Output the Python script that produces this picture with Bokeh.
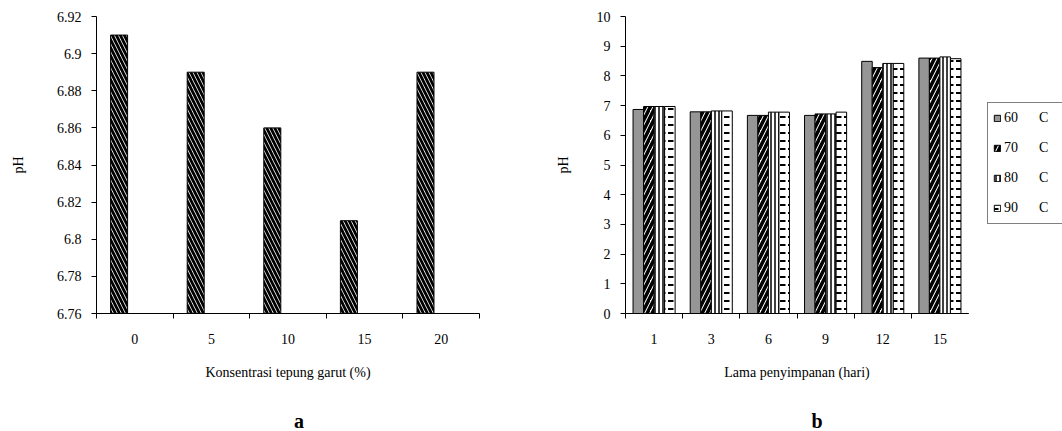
from bokeh.plotting import figure
from bokeh.models import (Range1d, FixedTicker, NumeralTickFormatter, Legend,
                          LegendItem, Div)
from bokeh.layouts import row, column
from bokeh.embed import file_html
from bokeh.resources import INLINE
import numpy as np

# ---- data: chart a ----
conc_labels = ["0", "5", "10", "15", "20"]
ph_conc = [6.91, 6.89, 6.86, 6.81, 6.89]
ya_ticks = [6.76, 6.78, 6.80, 6.82, 6.84, 6.86, 6.88, 6.90, 6.92]

# ---- data: chart b ----
days = ["1", "3", "6", "9", "12", "15"]
ph_60 = [6.87, 6.79, 6.67, 6.67, 8.49, 8.60]
ph_70 = [6.97, 6.79, 6.67, 6.72, 8.28, 8.60]
ph_80 = [6.97, 6.82, 6.78, 6.72, 8.42, 8.64]
ph_90 = [6.97, 6.82, 6.78, 6.78, 8.42, 8.58]
NB = "\u00a0"
series_labels = ["60" + NB * 6 + "C", "70" + NB * 6 + "C",
                 "80" + NB * 6 + "C", "90" + NB * 6 + "C"]
yb_ticks = list(range(0, 11))

FONT = "Liberation Serif"
PLOT_H = 405

# bar styles for the four temperature series
styles = [
    dict(fill_color="#969696"),
    dict(fill_color="white", hatch_pattern="/", hatch_color="black",
         hatch_scale=10, hatch_weight=3.5),
    dict(fill_color="white", hatch_pattern="|", hatch_color="black",
         hatch_scale=4, hatch_weight=1.5),
    dict(fill_color="white", hatch_pattern='"', hatch_color="black",
         hatch_scale=8, hatch_weight=2),
]


def style(p, xlabel, n, ylab_standoff):
    p.outline_line_color = None
    p.xgrid.grid_line_color = None
    p.ygrid.grid_line_color = None
    for ax in (p.xaxis[0], p.yaxis[0]):
        ax.axis_line_color = "black"
        ax.major_label_text_font = FONT
        ax.major_label_text_font_size = "14px"
        ax.major_label_text_color = "black"
        ax.axis_label_text_font = FONT
        ax.axis_label_text_font_size = "14px"
        ax.axis_label_text_font_style = "normal"
        ax.axis_label_text_color = "black"
    xa = p.xaxis[0]
    xa.ticker = FixedTicker(ticks=[i + 0.5 for i in range(n)],
                            minor_ticks=list(range(n + 1)))
    xa.major_tick_line_color = None
    xa.minor_tick_line_color = "black"
    xa.minor_tick_out = 5
    xa.minor_tick_in = 0
    xa.major_label_standoff = 14
    xa.axis_label = xlabel
    xa.axis_label_standoff = 18
    ya = p.yaxis[0]
    ya.major_tick_out = 5
    ya.major_tick_in = 0
    ya.minor_tick_line_color = None
    ya.major_label_standoff = 10
    ya.axis_label = "pH"
    ya.axis_label_standoff = ylab_standoff


# ---------- chart a ----------
pa = figure(width=540, height=PLOT_H, output_backend="svg", toolbar_location=None,
            x_range=Range1d(0, len(conc_labels)), y_range=Range1d(6.76, 6.92),
            min_border_left=96, min_border_right=61, min_border_top=16,
            min_border_bottom=PLOT_H - 317, background_fill_color="white",
            border_fill_color="white")
style(pa, "Konsentrasi tepung garut (%)", len(conc_labels), 28)
pa.xaxis[0].major_label_overrides = {i + 0.5: lab for i, lab in enumerate(conc_labels)}
pa.yaxis[0].ticker = FixedTicker(ticks=ya_ticks)
pa.yaxis[0].formatter = NumeralTickFormatter(format="0.[00]")

xa_pos = np.arange(len(conc_labels)) + 0.5 - 0.205
pa.vbar(x=xa_pos, top=ph_conc, bottom=6.76, width=0.222,
        fill_color="white", line_color="black", line_width=1,
        hatch_pattern="\\", hatch_color="black", hatch_scale=8, hatch_weight=2.8)

# ---------- chart b ----------
pb = figure(width=428, height=PLOT_H, output_backend="svg", toolbar_location=None,
            x_range=Range1d(0, len(days)), y_range=Range1d(0, 10),
            min_border_left=85, min_border_right=0, min_border_top=11,
            min_border_bottom=PLOT_H - 313, background_fill_color="white",
            border_fill_color="white")
style(pb, "Lama penyimpanan (hari)", len(days), 23)
pb.xaxis[0].major_label_overrides = {i + 0.5: lab for i, lab in enumerate(days)}
pb.yaxis[0].ticker = FixedTicker(ticks=yb_ticks)
pb.yaxis[0].formatter = NumeralTickFormatter(format="0")

bw = 0.184
base = np.arange(len(days)) + 0.5
series = [ph_60, ph_70, ph_80, ph_90]
for k, vals in enumerate(series):
    pb.vbar(x=base + (k - 1.5) * bw, top=vals, width=bw,
            line_color="black", line_width=1, **styles[k])

# ---------- legend (own narrow canvas at the right edge) ----------
# the same series are attached here as zero-height bars that lie outside this
# canvas' ranges, so only their legend swatches are visible
pl = figure(width=94, height=PLOT_H, output_backend="svg", toolbar_location=None,
            x_range=Range1d(100, 101), y_range=Range1d(100, 101),
            x_axis_location=None, y_axis_location=None,
            min_border=0, outline_line_color=None,
            background_fill_color="white", border_fill_color="white")
pl.xgrid.grid_line_color = None
pl.ygrid.grid_line_color = None
leg_renderers = [pl.vbar(x=base, top=vals, bottom=vals, width=bw,
                         line_color="black", line_width=1, **st)
                 for vals, st in zip(series, styles)]
legend = Legend(items=[LegendItem(label=l, renderers=[r])
                       for l, r in zip(series_labels, leg_renderers)],
                location=(19, 89), margin=0, padding=5, spacing=10,
                glyph_width=8, glyph_height=8, label_standoff=3,
                label_height=20, label_width=90,
                label_text_font=FONT, label_text_font_size="14px",
                label_text_color="black",
                border_line_color="black", border_line_width=1,
                background_fill_color="white")
pl.add_layout(legend, "center")


# ---------- panel letters ----------
def letter(txt, w):
    html = ("<div style=\"width:%dpx;text-align:center;"
            "font-family:'Liberation Serif';font-size:20px;font-weight:bold;"
            "line-height:20px;padding-top:6px;color:black;\">%s</div>" % (w, txt))
    return Div(text=html, width=w, height=431 - PLOT_H, margin=0,
               styles={"text-align": "center", "width": "%dpx" % w})


div_a = letter("a", 598)
div_b = letter("b", 438)

layout = column(row(pa, pb, pl), row(div_a, div_b))
open("out.html", "w").write(file_html(layout, INLINE))
